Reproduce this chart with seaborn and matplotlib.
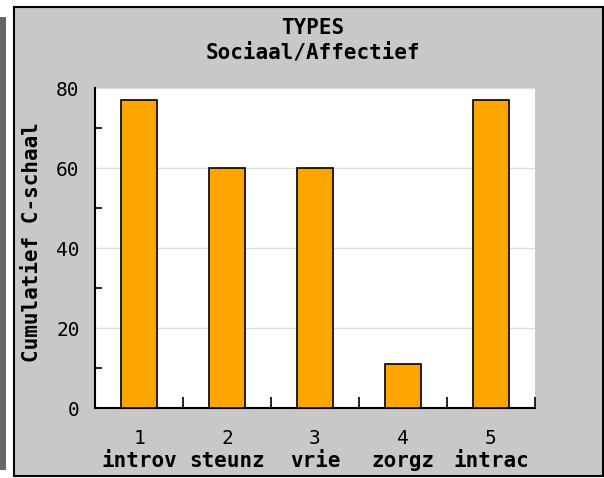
import numpy as np
import pandas as pd
import seaborn as sns
import matplotlib.pyplot as plt
from matplotlib.patches import Rectangle
from matplotlib.ticker import MultipleLocator, FixedLocator

# chart data
numbers = ['1', '2', '3', '4', '5']
names = ['introv', 'steunz', 'vrie', 'zorgz', 'intrac']
scores = [77, 60, 60, 11, 77]

df = pd.DataFrame({'nr': numbers, 'score': scores})

sns.set_style('white')
plt.rcParams['font.family'] = ['DejaVu Sans Mono']
plt.rcParams['text.color'] = 'black'
plt.rcParams['xtick.color'] = 'black'
plt.rcParams['ytick.color'] = 'black'
plt.rcParams['axes.labelcolor'] = 'black'

W, H = 604, 478
fig = plt.figure(figsize=(W / 100, H / 100), dpi=100)
fig.patch.set_facecolor('white')

# gray panel with black border and dark strip on the left
fig.patches.append(Rectangle((14 / W, 2 / H), 589 / W, 469 / H, transform=fig.transFigure,
                             facecolor='#C8C8C8', edgecolor='black', linewidth=1.5, zorder=-5))
fig.patches.append(Rectangle((0, 8 / H), 6 / W, 453 / H, transform=fig.transFigure,
                             facecolor='#666666', edgecolor='none', zorder=-5))

ax = fig.add_axes([95 / W, 70 / H, 440 / W, 320 / H])
ax.set_facecolor('white')

sns.barplot(data=df, x='nr', y='score', color='#FFA500', width=0.41,
            edgecolor='black', linewidth=1.2, saturation=1, ax=ax, zorder=3)

ax.set_xlim(-0.5, 4.5)
ax.set_ylim(0, 80)
ax.yaxis.set_major_locator(MultipleLocator(20))
ax.yaxis.set_minor_locator(MultipleLocator(10))
ax.xaxis.set_minor_locator(FixedLocator(np.arange(0.5, 5, 1)))
ax.grid(axis='y', color='#DDDDDD', linewidth=1, zorder=0)
ax.set_axisbelow(True)

for s in ['top', 'right']:
    ax.spines[s].set_visible(False)
for s in ['left', 'bottom']:
    ax.spines[s].set_color('black')
    ax.spines[s].set_linewidth(1.5)

ax.tick_params(axis='y', which='major', direction='in', length=10, width=1.2,
               color='black', pad=11, labelsize=14)
ax.tick_params(axis='y', which='minor', direction='in', length=5, width=1.2, color='black', left=True)
ax.tick_params(axis='x', which='major', length=0, pad=15, labelsize=14)
ax.tick_params(axis='x', which='minor', direction='in', length=8, width=1.2, color='black', bottom=True)

for i, name in enumerate(names):
    ax.text(i, -0.167, name, transform=ax.get_xaxis_transform(), ha='center', va='center',
            fontsize=15, fontweight='bold')

ax.set_xlabel('')
ax.set_ylabel('Cumulatief C-schaal', fontsize=15, fontweight='bold')
ax.yaxis.set_label_coords(-0.12, 0.52)

fig.text(313 / W, 1 - 28 / H, 'TYPES', ha='center', va='center', fontsize=15, fontweight='bold')
fig.text(313 / W, 1 - 53 / H, 'Sociaal/Affectief', ha='center', va='center', fontsize=15, fontweight='bold')

fig.savefig('out.png', dpi=100, facecolor='white')
